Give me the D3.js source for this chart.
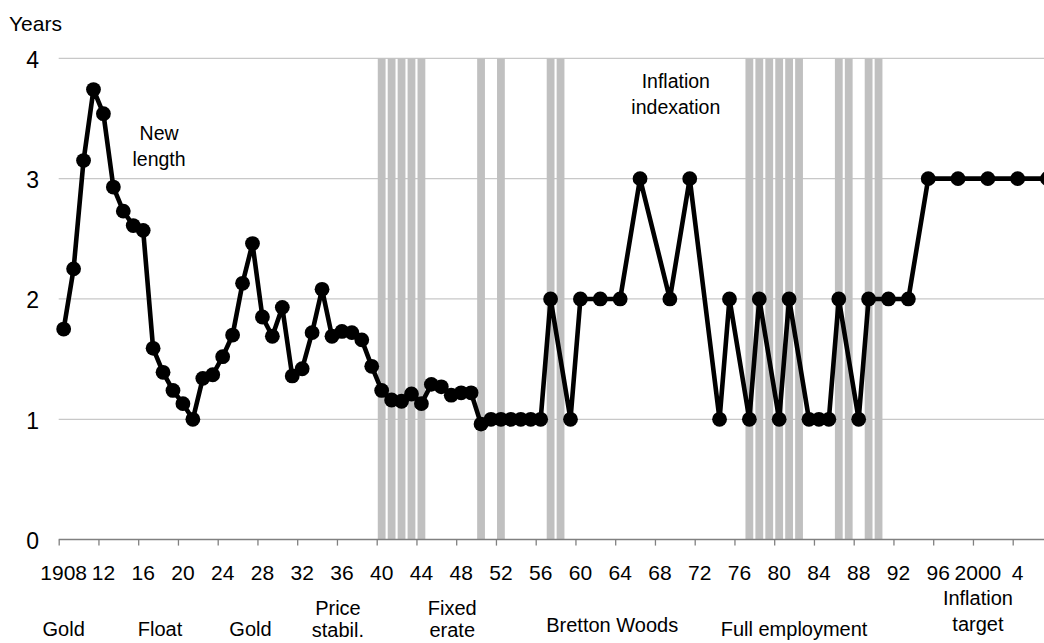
<!DOCTYPE html>
<html>
<head>
<meta charset="utf-8">
<script src="https://cdn.jsdelivr.net/npm/d3@7"></script>
<style>
  body { margin: 0; background: #fff; }
  svg { display: block; font-family: "Liberation Sans", Arial, sans-serif; }
</style>
</head>
<body>
<svg id="chart"></svg>
<script>
// contract start years and contract length (years)
const years = [
  1908, 1909, 1910, 1911, 1912, 1913, 1914, 1915, 1916, 1917,
  1918, 1919, 1920, 1921, 1922, 1923, 1924, 1925, 1926, 1927,
  1928, 1929, 1930, 1931, 1932, 1933, 1934, 1935, 1936, 1937,
  1938, 1939, 1940, 1941, 1942, 1943, 1944, 1945, 1946, 1947,
  1948, 1949, 1950, 1951, 1952, 1953, 1954, 1955, 1956, 1957,
  1959, 1960, 1962, 1964, 1966, 1969, 1971, 1974, 1975, 1977,
  1978, 1980, 1981, 1983, 1984, 1985, 1986, 1988, 1989, 1991,
  1993, 1995, 1998, 2001, 2004, 2007
]
const lengths = [
  1.75, 2.25, 3.15, 3.74, 3.54, 2.93, 2.73, 2.61, 2.57, 1.59,
  1.39, 1.24, 1.13, 1.0, 1.34, 1.37, 1.52, 1.70, 2.13, 2.46,
  1.85, 1.69, 1.93, 1.36, 1.42, 1.72, 2.08, 1.69, 1.73, 1.72,
  1.66, 1.44, 1.24, 1.16, 1.15, 1.21, 1.13, 1.29, 1.27, 1.20,
  1.22, 1.22, 0.96, 1.0, 1.0, 1.0, 1.0, 1.0, 1.0, 2.0,
  1, 2, 2, 2, 3, 2, 3, 1, 2, 1,
  2, 1, 2, 1, 1, 1, 2, 1, 2, 2,
  2, 3, 3, 3, 3, 3
]

// shaded years
const shadedYears = [1940, 1941, 1942, 1943, 1944, 1950, 1952, 1957, 1958,
  1977, 1978, 1979, 1980, 1981, 1982, 1986, 1987, 1989, 1990]

const tickYears = [1908, 1912, 1916, 1920, 1924, 1928, 1932, 1936, 1940, 1944,
  1948, 1952, 1956, 1960, 1964, 1968, 1972, 1976, 1980, 1984, 1988, 1992,
  1996, 2000, 2004]
const tickLabels = ['1908', '12', '16', '20', '24', '28', '32', '36', '40', '44',
  '48', '52', '56', '60', '64', '68', '72', '76', '80', '84', '88', '92',
  '96', '2000', '4']
const yTicks = [0, 1, 2, 3, 4]

// regimes under the axis: label lines and centre year
const regimeLines = [['Gold'], ['Float'], ['Gold'], ['Price', 'stabil.'], ['Fixed', 'erate'],
  ['Bretton Woods'], ['Full employment'], ['Inflation', 'target']]
const regimeYears = [1908, 1917.7, 1926.8, 1935.6, 1947.1, 1963.2, 1981.5, 2000]

const notes = [['New', 'length'], ['Inflation', 'indexation']]
const noteYears = [1917.6, 1969.6]
const noteValues = [3.32, 3.75]

var width = 1044,
  height = 643,
  left = 58.7,
  step = 9.9375

var svg = d3.select('#chart').attr('width', width).attr('height', height)

// one category per year, tick marks on the category boundaries
var x = d3.scaleLinear()
  .domain([1907.5, 2009.5])
  .range([left, left + 102 * step])

var y = d3.scaleLinear().domain([0, 4]).range([539.6, 58.3])

// gridlines
svg.append('g')
  .selectAll('line')
  .data(yTicks.filter(d => d > 0))
  .enter()
  .append('line')
  .attr('x1', left)
  .attr('x2', width)
  .attr('y1', d => y(d))
  .attr('y2', d => y(d))
  .attr('stroke', '#c8c8c8')
  .attr('stroke-width', 1.2)

// shaded bars
svg.append('g')
  .selectAll('rect')
  .data(shadedYears)
  .enter()
  .append('rect')
  .attr('x', d => x(d) - 3.9)
  .attr('width', 7.8)
  .attr('y', y(4))
  .attr('height', y(0) - y(4))
  .attr('fill', '#c0c0c0')

// x axis
var xAxis = d3.axisBottom(x)
  .tickValues(tickYears.map(d => d - 0.5))
  .tickSize(6)
  .tickFormat('')

var gx = svg.append('g')
  .attr('transform', 'translate(0,' + y(0) + ')')
  .call(xAxis)
gx.select('.domain').remove()
gx.selectAll('.tick line').attr('stroke', '#808080').attr('stroke-width', 1.3)
gx.append('line')
  .attr('x1', left)
  .attr('x2', width)
  .attr('stroke', '#808080')
  .attr('stroke-width', 1.5)

svg.append('g')
  .selectAll('text')
  .data(tickYears)
  .enter()
  .append('text')
  .attr('x', d => x(d))
  .attr('y', 579.5)
  .attr('text-anchor', 'middle')
  .attr('font-size', 21)
  .text((d, i) => tickLabels[i])

// y axis labels
var yAxis = d3.axisLeft(y)
  .tickValues(yTicks)
  .tickFormat(d3.format('d'))
  .tickSize(0)
  .tickPadding(0)
var gy = svg.append('g')
  .attr('transform', 'translate(39,0)')
  .call(yAxis)
gy.select('.domain').remove()
gy.selectAll('.tick text')
  .attr('font-family', '"Liberation Sans", Arial, sans-serif')
  .attr('font-size', 23)
  .attr('fill', '#000')
  .attr('dy', '0.38em')

svg.append('text')
  .attr('x', 9)
  .attr('y', 31)
  .attr('font-size', 21)
  .text('Years')

// the series
var line = d3.line()
  .x((d, i) => x(years[i]))
  .y(d => y(d))

svg.append('path')
  .datum(lengths)
  .attr('d', line)
  .attr('fill', 'none')
  .attr('stroke', '#000')
  .attr('stroke-width', 4.6)
  .attr('stroke-linejoin', 'round')

svg.append('g')
  .selectAll('circle')
  .data(lengths)
  .enter()
  .append('circle')
  .attr('cx', (d, i) => x(years[i]))
  .attr('cy', d => y(d))
  .attr('r', 7.4)
  .attr('fill', '#000')

// notes in the plot
notes.forEach(function(lines, i) {
  var t = svg.append('text')
    .attr('text-anchor', 'middle')
    .attr('font-size', 19.5)
  lines.forEach(function(s, j) {
    t.append('tspan')
      .attr('x', x(noteYears[i]))
      .attr('y', y(noteValues[i]) + j * 26)
      .text(s)
  })
})

// regime labels
regimeLines.forEach(function(lines, i) {
  var base = lines.length > 1 ? 615 : (i === 5 ? 632 : 636)
  if (i === 7) base = 605
  var t = svg.append('text')
    .attr('text-anchor', 'middle')
    .attr('font-size', 20)
  lines.forEach(function(s, j) {
    t.append('tspan')
      .attr('x', x(regimeYears[i]))
      .attr('y', base + j * (i === 7 ? 26 : 22))
      .text(s)
  })
})
</script>
</body>
</html>
